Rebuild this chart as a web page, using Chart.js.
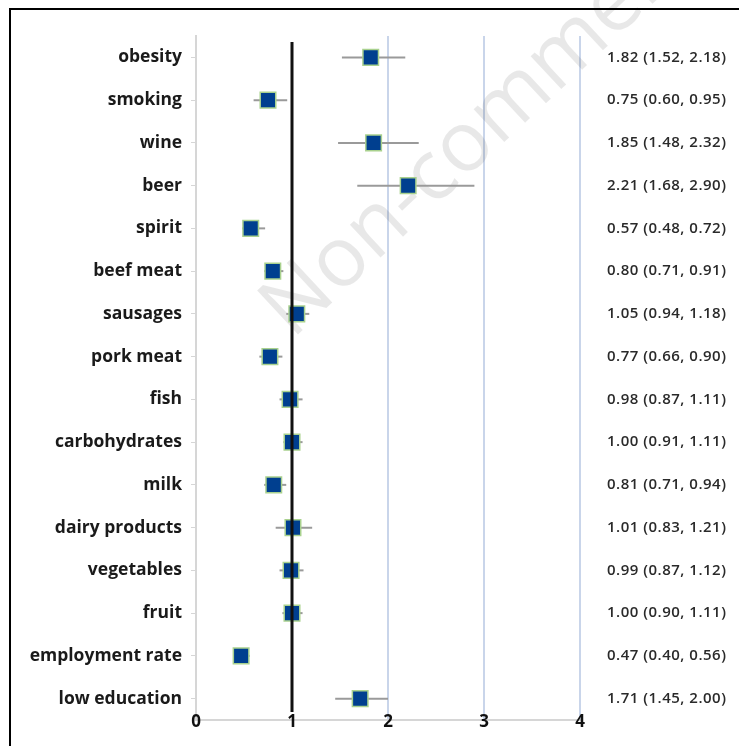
<!DOCTYPE html>
<html>
<head>
<meta charset="utf-8">
<script src="https://cdn.jsdelivr.net/npm/chart.js@4.4.0/dist/chart.umd.min.js"></script>
<style>
  body { margin: 0; background: #fff; }
  #wrap { width: 739px; height: 746px; }
</style>
</head>
<body>
<div id="wrap"><canvas id="forest" width="739" height="746"></canvas></div>
<script>
const categories = ['obesity', 'smoking', 'wine', 'beer', 'spirit', 'beef meat', 'sausages', 'pork meat',
    'fish', 'carbohydrates', 'milk', 'dairy products', 'vegetables', 'fruit', 'employment rate', 'low education'];
const oddsRatio = [1.82, 0.75, 1.85, 2.21, 0.57, 0.80, 1.05, 0.77, 0.98, 1.00, 0.81, 1.01, 0.99, 1.00, 0.47, 1.71];
const ciLow  = [1.52, 0.60, 1.48, 1.68, 0.48, 0.71, 0.94, 0.66, 0.87, 0.91, 0.71, 0.83, 0.87, 0.90, 0.40, 1.45];
const ciHigh = [2.18, 0.95, 2.32, 2.90, 0.72, 0.91, 1.18, 0.90, 1.11, 1.11, 0.94, 1.21, 1.12, 1.11, 0.56, 2.00];
const xTicks = [0, 1, 2, 3, 4];

Chart.defaults.font.family = '"Open Sans"';

// error bars, reference line, x tick labels, right-hand text, frame
const forestBits = {
    id: 'forestBits',
    beforeDatasetsDraw(chart) {
        const c = chart.ctx, x = chart.scales.x, y = chart.scales.y;
        // faint watermark
        c.save();
        c.translate(292, 340);
        c.rotate(-43 * Math.PI / 180);
        c.fillStyle = 'rgba(0,0,0,0.09)';
        c.font = '84px "Open Sans"';
        c.textBaseline = 'alphabetic';
        c.fillText('Non-commercial', 0, 0);
        c.restore();

        c.save();
        c.strokeStyle = '#9a9a9a';
        c.lineWidth = 2;
        categories.forEach((cat, i) => {
            const py = y.getPixelForValue(i);
            c.beginPath();
            c.moveTo(x.getPixelForValue(ciLow[i]), py);
            c.lineTo(x.getPixelForValue(ciHigh[i]), py);
            c.stroke();
        });
        c.restore();
    },
    afterDatasetsDraw(chart) {
        const c = chart.ctx, x = chart.scales.x, y = chart.scales.y, a = chart.chartArea;
        c.save();
        const px = x.getPixelForValue(1);
        c.strokeStyle = '#111';
        c.lineWidth = 3;
        c.beginPath();
        c.moveTo(px, a.top + 6);
        c.lineTo(px, a.bottom - 8);
        c.stroke();

        // x tick labels sit on the axis line
        c.fillStyle = '#111';
        c.font = 'bold 17px "Open Sans"';
        c.textAlign = 'center';
        c.textBaseline = 'middle';
        xTicks.forEach(v => c.fillText(String(v), x.getPixelForValue(v), a.bottom + 2));

        c.fillStyle = '#2a2a2a';
        c.font = '600 15px "Open Sans"';
        c.letterSpacing = '0.5px';
        c.textAlign = 'left';
        categories.forEach((cat, i) => {
            const txt = oddsRatio[i].toFixed(2) + ' (' + ciLow[i].toFixed(2) + ', ' + ciHigh[i].toFixed(2) + ')';
            c.fillText(txt, 607, y.getPixelForValue(i));
        });
        c.letterSpacing = '0px';

        c.strokeStyle = '#000';
        c.lineWidth = 2;
        c.beginPath();
        c.moveTo(10, 746);
        c.lineTo(10, 9);
        c.lineTo(739, 9);
        c.stroke();
        c.restore();
    }
};

new Chart(document.getElementById('forest'), {
    type: 'scatter',
    data: {
        datasets: [{
            data: categories.map((cat, i) => ({ x: oddsRatio[i], y: cat })),
            pointStyle: 'rect',
            pointRadius: 11,
            pointHoverRadius: 11,
            backgroundColor: '#003f8f',
            borderColor: '#a9d18e',
            borderWidth: 1.5
        }]
    },
    options: {
        responsive: false,
        animation: false,
        layout: { padding: { top: 36, right: 159, left: 0, bottom: 0 } },
        plugins: { legend: { display: false }, tooltip: { enabled: false } },
        scales: {
            x: {
                type: 'linear',
                min: 0,
                max: 4,
                afterBuildTicks: s => { s.ticks = xTicks.map(v => ({ value: v })); },
                afterFit: s => { s.height = 26; },
                border: { color: '#d6d6d6', width: 2 },
                grid: {
                    drawTicks: false,
                    lineWidth: 2,
                    color: ctx => (ctx.tick && ctx.tick.value >= 2) ? '#c9d5ea' : 'rgba(0,0,0,0)'
                },
                ticks: { display: false }
            },
            y: {
                type: 'category',
                labels: categories,
                offset: true,
                afterFit: s => { s.width = 196; },
                border: { color: '#d6d6d6', width: 2 },
                grid: { drawOnChartArea: false, tickLength: 5, color: '#d6d6d6', lineWidth: 1 },
                ticks: {
                    padding: 9,
                    color: '#1a1a1a',
                    font: { size: 17.5, weight: 'bold' }
                }
            }
        }
    },
    plugins: [forestBits]
});
</script>
</body>
</html>
